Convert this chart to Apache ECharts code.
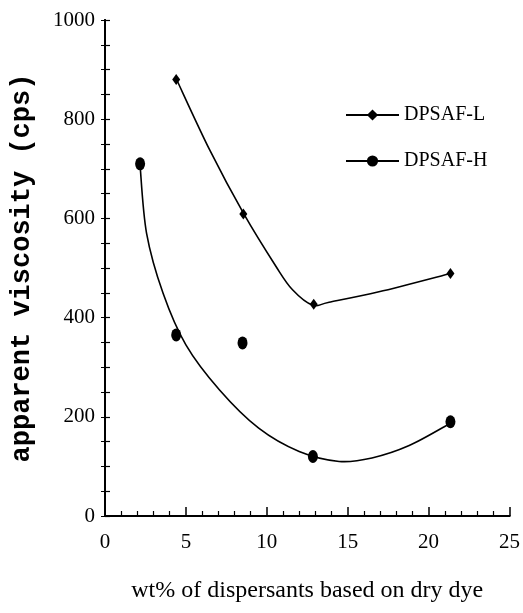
<!DOCTYPE html>
<html>
<head>
<meta charset="utf-8">
<script src="https://cdn.jsdelivr.net/npm/echarts@6/dist/echarts.min.js"></script>
<style>
html,body{margin:0;padding:0;background:#fff;}
#chart{width:523px;height:613px;}
</style>
</head>
<body>
<div id="chart"></div>
<script>
// Measured data points
const seriesNames = ['DPSAF-L', 'DPSAF-H'];
const pointsL = [[4.4, 880], [8.55, 609], [12.9, 427], [21.35, 489]];
const pointsH = [[2.17, 710], [4.4, 365], [8.5, 349], [12.85, 120], [21.35, 190]];
// Fitted curves
const curveL = [[4.41, 881], [6.47, 738], [8.58, 609], [10.57, 503], [11.59, 456], [12.83, 425], [13.85, 431], [16.93, 452], [21.35, 489]];
const curveH = [[2.16, 710], [2.57, 570], [3.59, 449], [5.0, 345], [7.08, 254], [9.5, 177], [12.0, 130], [14.47, 110], [16.5, 117], [18.8, 142], [21.35, 187]];
const xTicks = [0, 5, 10, 15, 20, 25];
const yTicks = [0, 200, 400, 600, 800, 1000];
const xTitle = 'wt% of dispersants based on dry dye';
const yTitle = 'apparent viscosity (cps)';

const serif = 'Liberation Serif';

// Draws a smooth curve through the read points, positioned by the chart's own axes
function splineRenderer(curve) {
  return function (params, api) {
    if (params.dataIndex !== 0) return null;
    const p = curve.map(function (d) { return api.coord(d); });
    let d = 'M' + p[0][0] + ' ' + p[0][1];
    for (let i = 0; i < p.length - 1; i++) {
      const p0 = p[Math.max(i - 1, 0)], p1 = p[i], p2 = p[i + 1], p3 = p[Math.min(i + 2, p.length - 1)];
      const c1 = [p1[0] + (p2[0] - p0[0]) / 6, p1[1] + (p2[1] - p0[1]) / 6];
      const c2 = [p2[0] - (p3[0] - p1[0]) / 6, p2[1] - (p3[1] - p1[1]) / 6];
      d += ' C' + c1[0] + ' ' + c1[1] + ' ' + c2[0] + ' ' + c2[1] + ' ' + p2[0] + ' ' + p2[1];
    }
    return {
      type: 'path',
      shape: { pathData: d },
      style: { stroke: '#000', fill: 'none', lineWidth: 1.6 }
    };
  };
}

const chart = echarts.init(document.getElementById('chart'));
chart.setOption({
  animation: false,
  backgroundColor: '#fff',
  grid: { left: 105, right: 12, top: 20, bottom: 97 },
  legend: {
    data: seriesNames,
    orient: 'vertical',
    left: 340,
    top: 100,
    itemWidth: 53,
    itemHeight: 14,
    itemGap: 26,
    textStyle: { fontFamily: serif, fontSize: 20, color: '#000' }
  },
  xAxis: [{
    type: 'value', min: xTicks[0], max: xTicks[xTicks.length - 1], interval: 5,
    position: 'bottom',
    axisLine: { show: true, lineStyle: { color: '#000', width: 2 } },
    axisTick: { show: true, inside: true, length: 9, lineStyle: { color: '#000', width: 1.5 } },
    minorTick: { show: true, splitNumber: 5, length: 5, lineStyle: { color: '#000', width: 1.2 } },
    splitLine: { show: false },
    axisLabel: { fontFamily: serif, fontSize: 21, color: '#000', margin: 16 },
    name: xTitle, nameLocation: 'middle', nameGap: 63,
    nameTextStyle: { fontFamily: serif, fontSize: 24, color: '#000' }
  }, {
    type: 'value', min: 0, max: 25, position: 'top',
    axisLine: { show: true, lineStyle: { color: '#000', width: 2 } },
    axisTick: { show: false }, axisLabel: { show: false }, splitLine: { show: false }
  }],
  yAxis: [{
    type: 'value', min: yTicks[0], max: yTicks[yTicks.length - 1], interval: 200,
    position: 'left',
    axisLine: { show: true, lineStyle: { color: '#000', width: 2 } },
    axisTick: { show: true, inside: true, length: 5, lineStyle: { color: '#000', width: 1.2 } },
    minorTick: { show: true, splitNumber: 4, length: 5, lineStyle: { color: '#000', width: 1.2 } },
    splitLine: { show: false },
    axisLabel: { fontFamily: serif, fontSize: 21, color: '#000', margin: 10, formatter: function (v) { return String(v); } },
    name: yTitle, nameLocation: 'middle', nameGap: 69, nameRotate: 90,
    nameTextStyle: { fontFamily: 'Liberation Mono', fontWeight: 'bold', fontSize: 27, color: '#000' }
  }, {
    type: 'value', min: 0, max: 1000, interval: 200, position: 'right',
    axisLine: { show: true, lineStyle: { color: '#000', width: 2 } },
    axisTick: { show: true, inside: true, length: 4, lineStyle: { color: '#000', width: 1 } },
    minorTick: { show: true, splitNumber: 4, length: 4, lineStyle: { color: '#000', width: 1 } },
    axisLabel: { show: false }, splitLine: { show: false }
  }],
  series: [{
    // legend entries (line + marker icon)
    name: 'DPSAF-L', type: 'line', data: [],
    symbol: 'diamond', symbolSize: [8, 11],
    lineStyle: { color: '#000', width: 1.6 }, itemStyle: { color: '#000' }
  }, {
    name: 'DPSAF-H', type: 'line', data: [],
    symbol: 'circle', symbolSize: [10, 13],
    lineStyle: { color: '#000', width: 1.6 }, itemStyle: { color: '#000' }
  }, {
    name: 'L curve', type: 'custom', data: [[curveL[0][0], curveL[0][1]]],
    renderItem: splineRenderer(curveL), silent: true
  }, {
    name: 'H curve', type: 'custom', data: [[curveH[0][0], curveH[0][1]]],
    renderItem: splineRenderer(curveH), silent: true
  }, {
    name: 'L points', type: 'scatter', data: pointsL,
    symbol: 'diamond', symbolSize: [8, 11], itemStyle: { color: '#000', opacity: 1 }
  }, {
    name: 'H points', type: 'scatter', data: pointsH,
    symbol: 'circle', symbolSize: [10, 13], itemStyle: { color: '#000', opacity: 1 }
  }]
});
</script>
</body>
</html>
